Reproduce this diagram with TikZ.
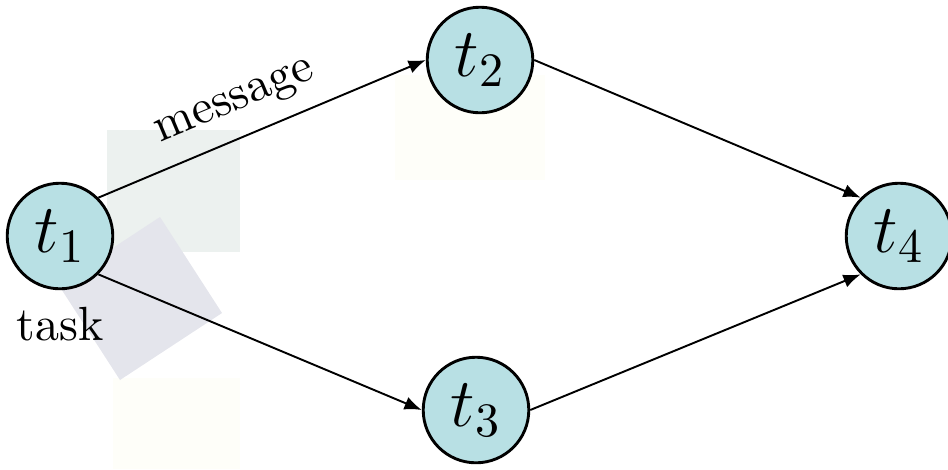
\documentclass[tikz,border=0pt]{standalone}
\usepackage{amsmath}
\usepackage{xcolor}
\usepackage{tikz}
\usetikzlibrary{calc,arrows.meta}

\definecolor{taskfill}{RGB}{184,224,228}
\definecolor{shadegreen}{RGB}{236,241,239}
\definecolor{shadeblue}{RGB}{228,229,236}
\definecolor{shadeyellow}{RGB}{254,254,249}

\begin{document}
\begin{tikzpicture}[
    x=0.00732cm, y=-0.00732cm,
    every node/.style={font=\normalsize},
    task/.style={circle, draw, semithick, fill=taskfill, minimum size=22pt, inner sep=0pt, font=\Large},
    arrow/.style={-{Latex[length=3.6pt, width=2.8pt]}, thin},
]
\useasboundingbox (0,0) rectangle (948,469);
% faint backdrop squares
\fill[shadegreen] (107,130) rectangle (240,252);
\fill[shadeyellow] (113,378) rectangle (240,469);
\fill[shadeyellow] (395,75) rectangle (545,180);
\fill[shadeblue] (160,217) -- (222,313) -- (120,380) -- (58,284) -- cycle;
% tasks
\node[task] (t1) at (60,236) {$t_1$};
\node[task] (t2) at (480,60) {$t_2$};
\node[task] (t3) at (476,410) {$t_3$};
\node[task] (t4) at (899,236) {$t_4$};
\node[below] (lbl) at (t1.south) {task};
\draw[arrow] (t1.north east) -- node[pos=0.46, above, sloped] (msg) {message} (t2.west);
\draw[arrow] (t1.south east) -- (t3.west);
\draw[arrow] (t2.east) -- (t4.north west);
\draw[arrow] (t3.east) -- (t4.south west);
\end{tikzpicture}
\end{document}
